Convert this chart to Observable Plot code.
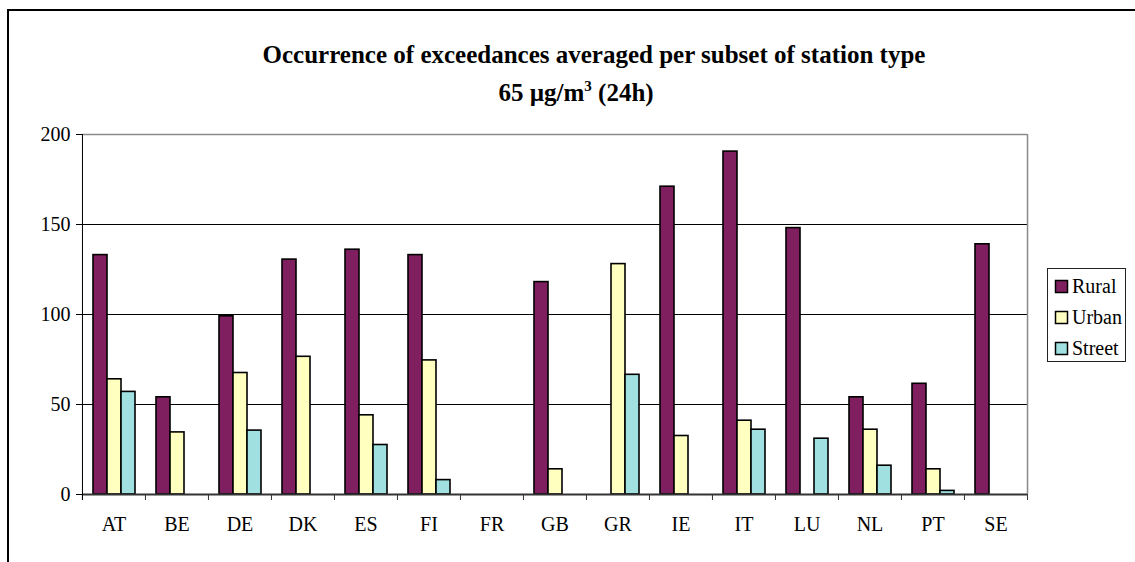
<!DOCTYPE html>
<html>
<head>
<meta charset="utf-8">
<script src="https://cdn.jsdelivr.net/npm/d3@7"></script>
<script src="https://cdn.jsdelivr.net/npm/@observablehq/plot@0.6"></script>
<style>
  html, body { margin: 0; padding: 0; background: #fff; }
  #wrap { position: relative; width: 1135px; height: 562px; overflow: hidden; }
  .bline { position: absolute; background: #000; }
  #chart, #overlay { position: absolute; left: 0; top: 0; }
</style>
</head>
<body>
<div id="wrap">
  <div class="bline" style="left:7px; top:9px; width:1128px; height:2px;"></div>
  <div class="bline" style="left:7px; top:9px; width:2px; height:553px;"></div>
  <div id="chart"></div>
  <svg id="overlay" width="1135" height="562"></svg>
</div>
<script>
const countries = ["AT","BE","DE","DK","ES","FI","FR","GB","GR","IE","IT","LU","NL","PT","SE"];
const seriesNames = ["Rural","Urban","Street"];
const seriesColors = ["#7f1f5f","#ffffc0","#a0e0e0"];
const rural  = [133, 54, 99, 130.5, 136, 133, null, 118, null, 171, 190.5, 148, 54, 61.5, 139];
const urban  = [64, 34.5, 67.5, 76.5, 44, 74.5, null, 14, 128, 32.5, 41, null, 36, 14, null];
const street = [57, null, 35.5, null, 27.5, 8, null, null, 66.5, null, 36, 31, 16, 2, null];
const yTicks = [0, 50, 100, 150, 200];
const gridValues = [50, 100, 150];
const titleLine1 = "Occurrence of exceedances averaged per subset of station type";

const seriesValues = [rural, urban, street];
const data = [];
countries.forEach((c, i) => {
  seriesNames.forEach((s, j) => {
    const v = seriesValues[j][i];
    if (v != null) data.push({country: c, series: s, value: v});
  });
});

const FONT = "'Liberation Serif', 'Times New Roman', serif";
const W = 1135, H = 562, ML = 81, MR = 108, MT = 134, MB = 68;
const plotH = H - MT - MB;
const bw = (W - ML - MR) / countries.length;

const chart = Plot.plot({
  width: W, height: H,
  marginLeft: ML, marginRight: MR, marginTop: MT, marginBottom: MB,
  style: {fontFamily: FONT, fontSize: "20px", background: "transparent", color: "#000"},
  fx: {domain: countries, padding: 0, axis: "bottom", tickSize: 0, tickPadding: 22, label: null},
  x: {domain: seriesNames, paddingInner: 0, paddingOuter: 0.7, axis: null},
  y: {domain: [0, 200], ticks: yTicks, tickSize: 6, tickPadding: 6, label: null},
  color: {domain: seriesNames, range: seriesColors},
  marks: [
    Plot.ruleY(gridValues, {stroke: "#000", strokeWidth: 1}),
    Plot.ruleY([200], {stroke: "#8a8a8a", strokeWidth: 1.5}),
    Plot.barY(data, {fx: "country", x: "series", y: "value", fill: "series", stroke: "#000", strokeWidth: 1.6}),
    Plot.ruleX(["SE"], {fx: d => d, x: null, dx: bw / 2, stroke: "#8a8a8a", strokeWidth: 1.5}),
    Plot.ruleY([0], {stroke: "#333", strokeWidth: 2}),
    Plot.ruleX(countries, {fx: d => d, x: null, insetTop: plotH, insetBottom: -6, dx: -bw / 2, stroke: "#333", strokeWidth: 1}),
    Plot.ruleX(["SE"], {fx: d => d, x: null, insetTop: plotH, insetBottom: -6, dx: bw / 2, stroke: "#333", strokeWidth: 1}),
    Plot.ruleX(["AT"], {fx: d => d, x: null, insetBottom: -6, dx: -bw / 2, stroke: "#000", strokeWidth: 1})
  ]
});
document.getElementById("chart").appendChild(chart);

// Title and legend as SVG text
const ov = d3.select("#overlay").attr("font-family", FONT).attr("fill", "#000");
ov.append("text").attr("x", 594).attr("y", 63).attr("text-anchor", "middle")
  .attr("font-size", 25).attr("font-weight", "bold").text(titleLine1);
const t2 = ov.append("text").attr("x", 576).attr("y", 101).attr("text-anchor", "middle")
  .attr("font-size", 25).attr("font-weight", "bold");
t2.append("tspan").text("65 µg/m");
t2.append("tspan").attr("font-size", 15).attr("dy", -10).text("3");
t2.append("tspan").attr("dy", 10).text(" (24h)");

const lg = ov.append("g");
lg.append("rect").attr("x", 1047.5).attr("y", 268.5).attr("width", 78).attr("height", 93)
  .attr("fill", "#fff").attr("stroke", "#222").attr("stroke-width", 1);
const baselines = [293, 324, 355];
seriesNames.forEach((s, i) => {
  lg.append("rect").attr("x", 1055.5).attr("y", baselines[i] - 12.5).attr("width", 12).attr("height", 12)
    .attr("fill", seriesColors[i]).attr("stroke", "#000").attr("stroke-width", 1.5);
  lg.append("text").attr("x", 1072).attr("y", baselines[i]).attr("font-size", 20).text(s);
});
</script>
</body>
</html>
